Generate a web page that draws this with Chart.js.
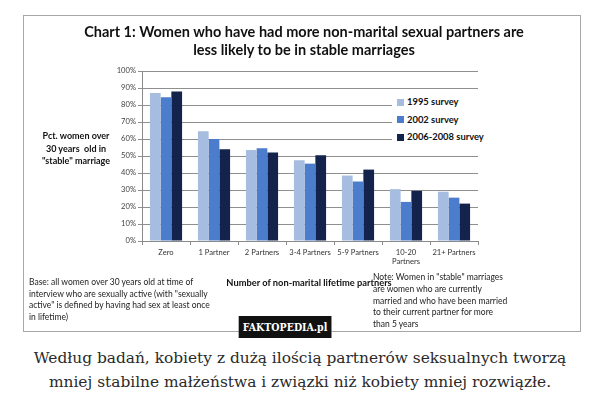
<!DOCTYPE html>
<html>
<head>
<meta charset="utf-8">
<script src="https://cdn.jsdelivr.net/npm/chart.js@4.4.1/dist/chart.umd.min.js"></script>
<style>
  body { margin: 0; width: 600px; height: 405px; background: #fff; position: relative; overflow: hidden; font-family: Lato, "Open Sans", sans-serif; }
  #box { position: absolute; left: 23px; top: 15px; width: 556px; height: 315px; border: 1px solid #a8a8a8; }
  #chartWrap { position: absolute; left: 0; top: 0; width: 556px; height: 315px; }
  .abs { position: absolute; color: #111; }
  #title { left: 0; width: 560px; top: 7px; text-align: center; font-weight: bold; font-size: 14.5px; line-height: 18px; }
  #ytitle { left: 0; width: 104px; top: 114px; text-align: center; font-weight: bold; font-size: 9px; line-height: 12.7px; }
  #xtitle { left: 160px; width: 250px; top: 261px; text-align: center; font-weight: bold; font-size: 9.3px; }
  #base { left: 5px; top: 261px; font-size: 8.5px; line-height: 11.6px; color: #222; white-space: nowrap; }
  #note { left: 349px; top: 256px; font-size: 8.5px; line-height: 11.8px; color: #222; white-space: nowrap; }
  #legend { left: 368px; top: 77px; width: 100px; height: 52px; background: #fff; }
  .li { position: absolute; left: 5px; font-weight: bold; font-size: 9.4px; line-height: 12px; white-space: nowrap; }
  .li span { display: inline-block; width: 7px; height: 7px; margin-right: 3px; vertical-align: -0.5px; }
  #wm { position: absolute; left: 285px; transform: translateX(-50%); top: 316px; height: 22px; padding: 0 4px; background: #111; color: #fff; font-family: "DejaVu Serif Condensed", "Liberation Serif", serif; font-weight: bold; font-size: 10.5px; line-height: 22px; white-space: nowrap; }
  #caption { position: absolute; left: 0; width: 600px; top: 346px; text-align: center; font-family: "DejaVu Serif", serif; font-size: 15.4px; line-height: 24px; color: #2a2a2a; white-space: nowrap; }
</style>
</head>
<body>
<div id="box">
  <div id="chartWrap"><canvas id="chart"></canvas></div>
  <div class="abs" id="title">Chart 1: Women who have had more non-marital sexual partners are<br>less likely to be in stable marriages</div>
  <div class="abs" id="ytitle">Pct. women over<br>30 years&nbsp; old in<br>"stable" marriage</div>
  <div class="abs" id="xtitle">Number of non-marital lifetime partners</div>
  <div class="abs" id="base">Base: all women over 30 years old at time of<br>interview who are sexually active (with "sexually<br>active" is defined by having had sex at least once<br>in lifetime)</div>
  <div class="abs" id="note">Note: Women in "stable" marriages<br>are women who are currently<br>married and who have been married<br>to their current partner for more<br>than 5 years</div>
  <div class="abs" id="legend"></div>
</div>
<div id="wm">FAKTOPEDIA.pl</div>
<div id="caption">Według badań, kobiety z dużą ilością partnerów seksualnych tworzą<br>mniej stabilne małżeństwa i związki niż kobiety mniej rozwiązłe.</div>
<script>
// values, in percent
var categories = ['Zero', '1 Partner', '2 Partners', '3-4 Partners', '5-9 Partners', ['10-20', 'Partners'], '21+ Partners'];
var seriesNames = ['1995 survey', '2002 survey', '2006-2008 survey'];
var survey1995 = [87, 64.5, 53.5, 47.5, 38.5, 30.5, 29];
var survey2002 = [84.5, 60, 54.5, 45.5, 35, 23, 25.5];
var survey2006 = [88, 54, 52, 50.5, 42, 29.5, 22];
var yTicks = [0, 10, 20, 30, 40, 50, 60, 70, 80, 90, 100];
var colors = ['#a7bde0', '#4b7dcc', '#13234c'];

var tickFont = { family: 'Lato', size: 7.6 };

var chart = new Chart(document.getElementById('chart').getContext('2d'), {
  type: 'bar',
  data: {
    labels: categories,
    datasets: [
      { label: seriesNames[0], data: survey1995, backgroundColor: colors[0] },
      { label: seriesNames[1], data: survey2002, backgroundColor: colors[1] },
      { label: seriesNames[2], data: survey2006, backgroundColor: colors[2] }
    ]
  },
  options: {
    responsive: true,
    maintainAspectRatio: false,
    animation: false,
    datasets: { bar: { barPercentage: 1, categoryPercentage: 0.67 } },
    layout: { padding: { left: 0, top: 55, right: 102, bottom: 0 } },
    plugins: { legend: { display: false }, tooltip: { enabled: false } },
    scales: {
      x: {
        afterFit: function (scale) { scale.height = 90; },
        grid: { display: true, drawOnChartArea: false, drawTicks: true, tickLength: 4, color: '#8a8a8a' },
        border: { color: '#8a8a8a' },
        ticks: { color: '#333', font: tickFont, padding: 3, maxRotation: 0, autoSkip: false }
      },
      y: {
        min: 0,
        max: 100,
        afterFit: function (scale) { scale.width = 118; },
        afterBuildTicks: function (scale) { scale.ticks = yTicks.map(function (v) { return { value: v }; }); },
        grid: { color: '#8f8f8f', tickLength: 4, drawTicks: true },
        border: { color: '#8a8a8a' },
        ticks: { color: '#444', font: tickFont, padding: 2, callback: function (v) { return v + '%'; } }
      }
    }
  }
});

// legend over the plot, white behind it
var legend = document.getElementById('legend');
chart.data.datasets.forEach(function (ds, i) {
  var el = document.createElement('div');
  el.className = 'li';
  el.style.top = (3 + i * 17.5) + 'px';
  el.innerHTML = '<span style="background:' + ds.backgroundColor + '"></span>' + ds.label;
  legend.appendChild(el);
});
</script>
</body>
</html>
